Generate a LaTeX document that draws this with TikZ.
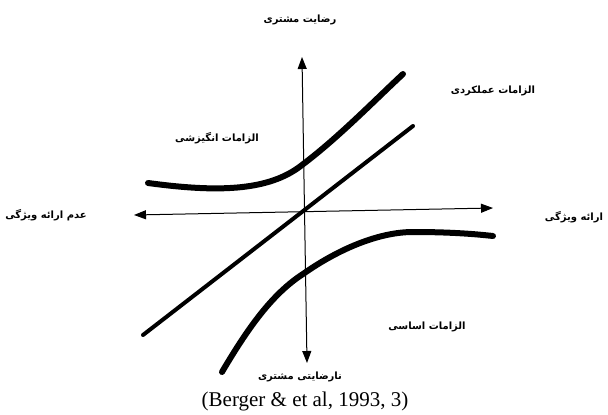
\documentclass[tikz,border=0pt]{standalone}
\usepackage{fontspec}
\setmainfont{Liberation Serif}
\newfontfamily\arabicfont[Script=Arabic]{DejaVu Sans}
\TeXXeTstate=1
\usetikzlibrary{arrows.meta}
\tikzset{
  axisline/.style={line width=1pt,{Triangle[length=12pt,width=9pt]}-{Triangle[length=12pt,width=9pt]}},
  curveline/.style={line width=6pt,line cap=round},
  diagline/.style={line width=4pt,line cap=round},
  lbl/.style={font=\arabicfont\bfseries\fontsize{10}{12}\selectfont,inner sep=0pt},
  srccap/.style={font=\fontsize{21}{25}\selectfont,inner sep=0pt}
}
\begin{document}
\begin{tikzpicture}[x=1pt,y=-1pt]
\useasboundingbox (0,0) rectangle (608,415);
% axis end points
\coordinate (hl) at (134,215);
\coordinate (hr) at (493,208);
\coordinate (vt) at (302,57);
\coordinate (vb) at (307,363);
\draw[axisline] (hl) -- (hr);
\draw[axisline] (vt) -- (vb);
% diagonal (performance)
\coordinate (d1) at (143,335);
\coordinate (d2) at (413,126);
\draw[diagline] (d1) -- (d2);
% upper curve (attractive)
\coordinate (u1) at (148,183);
\coordinate (u2) at (302,165);
\coordinate (u3) at (403,74);
\draw[curveline] (u1) .. controls (215,192) and (268,192) .. (u2)
  .. controls (338,138) and (375,100) .. (u3);
% lower curve (must-be)
\coordinate (l1) at (222,372);
\coordinate (l2) at (303,274);
\coordinate (l3) at (413,232);
\coordinate (l4) at (493,236);
\draw[curveline] (l1) .. controls (248,328) and (272,294) .. (l2)
  .. controls (340,248) and (380,232) .. (l3)
  .. controls (450,232) and (475,234) .. (l4);
% labels
\node[lbl] (top) at (300,20) {\beginR رضایت مشتری\endR};
\node[lbl] (perf) at (493,91) {\beginR الزامات عملکردی\endR};
\node[lbl] (attr) at (217,138) {\beginR الزامات انگیزشی\endR};
\node[lbl] (left) at (46,215) {\beginR عدم ارائه ویژگی\endR};
\node[lbl] (right) at (574,217) {\beginR ارائه ویژگی\endR};
\node[lbl] (must) at (427,327) {\beginR الزامات اساسی\endR};
\node[lbl] (bot) at (300,377) {\beginR نارضایتی مشتری\endR};
\node[srccap] (src) at (305,401) {(Berger \& et al, 1993, 3)};
\end{tikzpicture}
\end{document}
